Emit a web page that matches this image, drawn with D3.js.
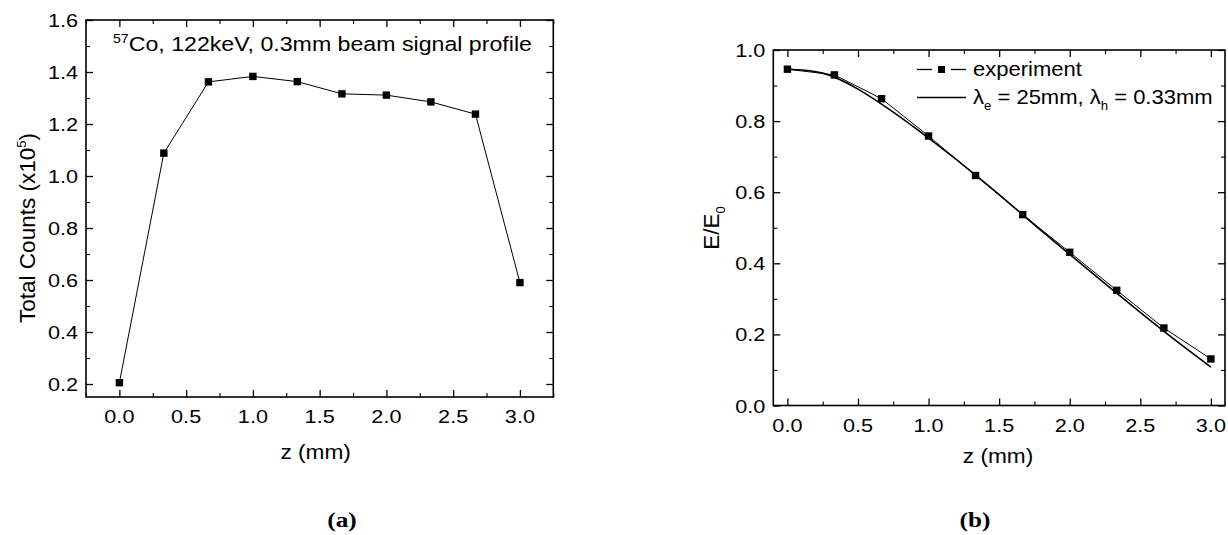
<!DOCTYPE html>
<html>
<head>
<meta charset="utf-8">
<script src="https://cdn.jsdelivr.net/npm/d3@7"></script>
<style>
  html, body { margin: 0; padding: 0; background: #fff; }
  svg { display: block; }
  text { font-family: "Liberation Sans", Arial, sans-serif; fill: #000; }
  text.serif { font-family: "Liberation Serif", "Times New Roman", serif; }
</style>
</head>
<body>
<svg id="chart" width="1228" height="535"></svg>
<script>
// ---------------- data ----------------
const zPositions = [0, 0.333, 0.667, 1.0, 1.333, 1.667, 2.0, 2.333, 2.667, 3.0];
const totalCounts = [0.205, 1.088, 1.362, 1.383, 1.363, 1.316, 1.311, 1.285, 1.238, 0.59];
const experimentEE0 = [0.946, 0.930, 0.863, 0.758, 0.647, 0.537, 0.431, 0.324, 0.218, 0.131];
const modelZ = [0, 0.25, 0.5, 0.75, 1.0, 1.25, 1.5, 1.75, 2.0, 2.25, 2.5, 2.75, 3.0];
const modelEE0 = [0.946, 0.935, 0.89, 0.825, 0.752, 0.675, 0.593, 0.508, 0.425, 0.343, 0.262, 0.183, 0.108];

const xTicksMajor = [0, 0.5, 1.0, 1.5, 2.0, 2.5, 3.0];
const xTicksMinor = [-0.25, 0.25, 0.75, 1.25, 1.75, 2.25, 2.75, 3.25];
const yTicksA = [0.2, 0.4, 0.6, 0.8, 1.0, 1.2, 1.4, 1.6];
const yTicksAMinor = [0.3, 0.5, 0.7, 0.9, 1.1, 1.3, 1.5];
const yTicksB = [0.0, 0.2, 0.4, 0.6, 0.8, 1.0];
const yTicksBMinor = [0.1, 0.3, 0.5, 0.7, 0.9];

const SX = 1.14; // horizontal text stretch of the reference

const svg = d3.select("#chart");

function txt(g, x, y, str, size, anchor, opts = {}) {
  const t = g.append("text")
    .attr("transform", `translate(${x},${y}) scale(${opts.sx || SX},1)`)
    .attr("font-size", size)
    .attr("text-anchor", anchor || "start");
  if (opts.weight) t.attr("font-weight", opts.weight);
  if (opts.cls) t.attr("class", opts.cls);
  if (str !== null) t.text(str);
  return t;
}

function frame(x, y, xMajor, xMinor, yMajor, yMinor) {
  const [x0, x1] = x.range();
  const [y0, y1] = y.range(); // y0 bottom, y1 top
  const g = svg.append("g");
  const sides = [
    { ax: d3.axisBottom(x), t: `translate(0,${y0})`, v: xMajor, m: xMinor },
    { ax: d3.axisTop(x), t: `translate(0,${y1})`, v: xMajor, m: xMinor },
    { ax: d3.axisLeft(y), t: `translate(${x0},0)`, v: yMajor, m: yMinor },
    { ax: d3.axisRight(y), t: `translate(${x1},0)`, v: yMajor, m: yMinor }
  ];
  sides.forEach(a => {
    const gm = g.append("g").attr("transform", a.t)
      .call(a.ax.tickValues(a.v).tickSize(-7).tickFormat(""));
    gm.select(".domain").remove();
    gm.selectAll("line").attr("stroke", "#000").attr("stroke-width", 1.3);
    const gn = g.append("g").attr("transform", a.t)
      .call(a.ax.tickValues(a.m).tickSize(-4).tickFormat(""));
    gn.select(".domain").remove();
    gn.selectAll("line").attr("stroke", "#000").attr("stroke-width", 1.1);
  });
  g.append("rect").attr("x", x0).attr("y", y1).attr("width", x1 - x0).attr("height", y0 - y1)
    .attr("fill", "none").attr("stroke", "#000").attr("stroke-width", 1.6);
  // tick labels
  xMajor.forEach(v => txt(g, x(v), y0 + 26, d3.format(".1f")(v), 19, "middle"));
  yMajor.forEach(v => txt(g, x0 - 8, y(v) + 7, d3.format(".1f")(v), 19, "end"));
  return g;
}

// ---------------- panel (a) ----------------
const xA = d3.scaleLinear().domain([-0.25, 3.25]).range([86, 553.3]);
const yA = d3.scaleLinear().domain([0.15, 1.6]).range([397, 20]);
const gA = frame(xA, yA, xTicksMajor, xTicksMinor, yTicksA, yTicksAMinor);

const lineA = d3.line().x((d, i) => xA(zPositions[i])).y(d => yA(d));
gA.append("path").datum(totalCounts).attr("d", lineA)
  .attr("fill", "none").attr("stroke", "#000").attr("stroke-width", 1);
gA.selectAll("rect.ma").data(totalCounts).join("rect").attr("class", "ma")
  .attr("x", (d, i) => xA(zPositions[i]) - 3.7).attr("y", d => yA(d) - 3.7)
  .attr("width", 7.4).attr("height", 7.4).attr("fill", "#000");

// annotation
const ann = txt(gA, 113, 51, null, 20.5, "start", { sx: 1.13 });
ann.append("tspan").attr("font-size", 12.5).attr("dy", -8).text("57");
ann.append("tspan").attr("dy", 8).text("Co, 122keV, 0.3mm beam signal profile");

// axis titles
txt(gA, xA(1.5) - 4, 459, "z (mm)", 21, "middle", { sx: 1.08 });
{
  const t = gA.append("text")
    .attr("transform", `translate(35,228) rotate(-90)`)
    .attr("font-size", 22.5).attr("text-anchor", "middle");
  t.append("tspan").text("Total Counts (x10");
  t.append("tspan").attr("font-size", 13).attr("dy", -9).text("5");
  t.append("tspan").attr("dy", 9).text(")");
}
txt(gA, 342, 527, "(a)", 22, "middle", { weight: "bold", cls: "serif", sx: 1.15 });

// ---------------- panel (b) ----------------
const xB = d3.scaleLinear().domain([-0.1, 3.1]).range([773.3, 1225]);
const yB = d3.scaleLinear().domain([0, 1]).range([405.5, 50]);
const gB = frame(xB, yB, xTicksMajor, xTicksMinor.filter(v => v > -0.1 && v < 3.1), yTicksB, yTicksBMinor);

const lineModel = d3.line().curve(d3.curveNatural)
  .x((d, i) => xB(modelZ[i])).y(d => yB(d));
gB.append("path").datum(modelEE0).attr("d", lineModel)
  .attr("fill", "none").attr("stroke", "#000").attr("stroke-width", 1.6);

const lineExp = d3.line().x((d, i) => xB(zPositions[i])).y(d => yB(d));
gB.append("path").datum(experimentEE0).attr("d", lineExp)
  .attr("fill", "none").attr("stroke", "#000").attr("stroke-width", 1);
gB.selectAll("rect.mb").data(experimentEE0).join("rect").attr("class", "mb")
  .attr("x", (d, i) => xB(zPositions[i]) - 3.7).attr("y", d => yB(d) - 3.7)
  .attr("width", 7.4).attr("height", 7.4).attr("fill", "#000");

// legend
gB.append("line").attr("x1", 917).attr("x2", 932).attr("y1", 69.5).attr("y2", 69.5).attr("stroke", "#000").attr("stroke-width", 1.3);
gB.append("line").attr("x1", 951).attr("x2", 966).attr("y1", 69.5).attr("y2", 69.5).attr("stroke", "#000").attr("stroke-width", 1.3);
gB.append("rect").attr("x", 938).attr("y", 66).attr("width", 7).attr("height", 7).attr("fill", "#000");
txt(gB, 973, 76, "experiment", 20, "start", { sx: 1.1 });
gB.append("line").attr("x1", 917).attr("x2", 966).attr("y1", 97.5).attr("y2", 97.5).attr("stroke", "#000").attr("stroke-width", 1.6);
{
  const t = txt(gB, 973, 104, null, 20, "start", { sx: 1.1 });
  t.append("tspan").text("λ");
  t.append("tspan").attr("font-size", 12).attr("dy", 6).text("e");
  t.append("tspan").attr("dy", -6).text(" = 25mm, λ");
  t.append("tspan").attr("font-size", 12).attr("dy", 6).text("h");
  t.append("tspan").attr("dy", -6).text(" = 0.33mm");
}

txt(gB, 998, 463, "z (mm)", 21, "middle", { sx: 1.08 });
{
  const t = gB.append("text")
    .attr("transform", `translate(719,228) rotate(-90)`)
    .attr("font-size", 22.5).attr("text-anchor", "middle");
  t.append("tspan").text("E/E");
  t.append("tspan").attr("font-size", 13).attr("dy", 6).text("0");
}
txt(gB, 975, 527, "(b)", 22, "middle", { weight: "bold", cls: "serif", sx: 1.15 });
</script>
</body>
</html>
